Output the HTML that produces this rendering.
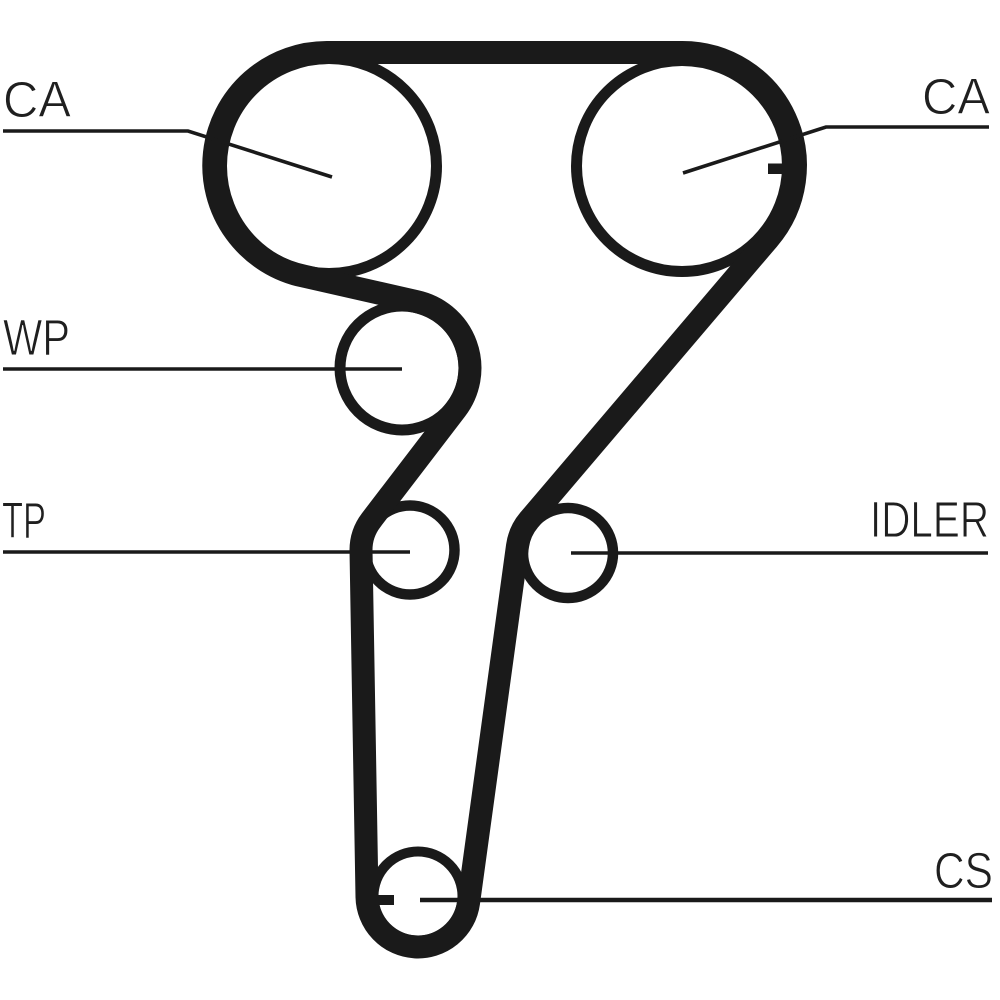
<!DOCTYPE html>
<html><head><meta charset="utf-8"><style>
html,body{margin:0;padding:0;background:#fff}
svg{display:block}
text{font-family:"Liberation Sans",sans-serif;font-size:51px;fill:#1f1f1f;stroke:#fff;stroke-width:.9px;paint-order:normal}
</style></head><body>
<svg width="1000" height="1000" viewBox="0 0 1000 1000" xmlns="http://www.w3.org/2000/svg">
<rect width="1000" height="1000" fill="#fff"/>
<g fill="none" stroke="#1a1a1a" stroke-width="11">
<circle cx="329" cy="166" r="107.5"/>
<circle cx="682" cy="166" r="105.5"/>
<circle cx="402" cy="368" r="62" stroke-width="11"/>
<circle cx="410" cy="550" r="44.5" stroke-width="10.5"/>
<circle cx="568" cy="553" r="45" stroke-width="10.5"/>
<circle cx="418" cy="896" r="44.5" stroke-width="10"/>
</g>
<path fill="none" stroke="#1a1a1a" stroke-width="23" stroke-linejoin="round"
 d="M329 52.5 L682 52.5 A113 113 0 0 1 768.1 239.2 L529.1 520 A51 51 0 0 0 517.5 546 L468.5 903 A51 51 0 0 1 367 897 L361 550 A49 49 0 0 1 371.1 520.2 L456 409.3 A68 68 0 0 0 416.9 301.7 L304.2 276.2 A113 113 0 0 1 329 52.5 Z"/>
<g fill="none" stroke="#1a1a1a" stroke-width="3.6">
<path d="M3 131 L188 131 L332 177"/>
<path d="M989 127 L826 127 L683 173"/>
<path d="M3 369 L402 369"/>
<path d="M3 552 L410 552"/>
<path d="M571 553 L988 553"/>
<path d="M420 900 L992 900" stroke-width="4.5"/>
</g>
<rect x="768" y="163.5" width="20" height="10.5" fill="#1a1a1a"/>
<rect x="370" y="895" width="24" height="10" fill="#1a1a1a"/>
<text x="3" y="117" textLength="68" lengthAdjust="spacingAndGlyphs">CA</text>
<text x="922" y="114" textLength="68" lengthAdjust="spacingAndGlyphs">CA</text>
<text x="3" y="355" textLength="67" lengthAdjust="spacingAndGlyphs">WP</text>
<text x="2" y="538" textLength="44" lengthAdjust="spacingAndGlyphs">TP</text>
<text x="870" y="537" textLength="119" lengthAdjust="spacingAndGlyphs">IDLER</text>
<text x="934" y="888" textLength="59" lengthAdjust="spacingAndGlyphs">CS</text>
</svg>
</body></html>
